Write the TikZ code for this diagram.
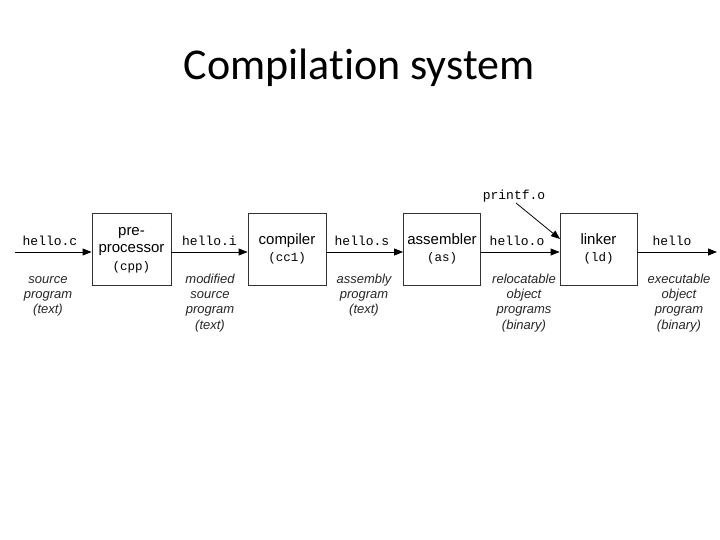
\documentclass[tikz,border=0pt]{standalone}
\usepackage{fontspec}
\setmainfont{Liberation Sans}
\newfontfamily\titlefont{Carlito}[Ligatures=NoCommon]
\newfontfamily\codefont{Liberation Mono}
\usetikzlibrary{arrows.meta}
\newcommand\stagetext[1]{\raisebox{-3pt}{\begin{tabular}{@{}c@{}}#1\end{tabular}}}
\newcommand\stagecode[1]{{\codefont\fontsize{12.5}{17.5}\selectfont #1}}
\tikzset{
  stagebox/.style={draw=black!80, line width=0.8pt, minimum width=78pt, minimum height=72pt,
    inner sep=0pt, align=center, font=\fontsize{15}{17.5}\selectfont},
  flow/.style={line width=0.8pt, -{Triangle[length=9pt,width=7pt]}},
  filelabel/.style={font=\codefont\fontsize{13}{15}\selectfont, anchor=base},
  desclabel/.style={font=\itshape\fontsize{13}{15.3}\selectfont, align=center, anchor=north, text=black!85, inner sep=0pt},
}
\begin{document}
\begin{tikzpicture}[x=1pt,y=-1pt]
\useasboundingbox (0,0) rectangle (720,540);
\node[font=\titlefont\fontsize{44}{50}\selectfont, anchor=base] (title) at (359,80) {Compilation system};

\node[stagebox, minimum width=79pt] (pre) at (131.5,249.3) {\stagetext{pre-\\processor\\\stagecode{(cpp)}}};
\node[stagebox] (comp) at (287,249.3) {\stagetext{compiler\\\stagecode{(cc1)}}};
\node[stagebox, minimum width=77pt] (asm) at (442,249.3) {\stagetext{assembler\\\stagecode{(as)}}};
\node[stagebox, minimum width=77pt] (link) at (598.5,249.3) {\stagetext{linker\\\stagecode{(ld)}}};

\coordinate (start) at (15,252);
\coordinate (finish) at (717,252);
\draw[flow] (start) -- (start -| pre.west);
\draw[flow] (pre.east |- start) -- (start -| comp.west);
\draw[flow] (comp.east |- start) -- (start -| asm.west);
\draw[flow] (asm.east |- start) -- (start -| link.west);
\draw[flow] (link.east |- start) -- (finish);

\node[filelabel] (fc) at (50,245) {hello.c};
\node[filelabel] (fi) at (209.5,245) {hello.i};
\node[filelabel] (fs) at (362,245) {hello.s};
\node[filelabel] (fo) at (517,245) {hello.o};
\node[filelabel] (fh) at (672,245) {hello};
\node[filelabel] (fp) at (514,200) {printf.o};

\coordinate (pstart) at (516,203);
\coordinate (plink) at (560,239);
\draw[flow] (pstart) -- (plink);

\node[desclabel] (dc) at (48,272.3) {\strut source\\program\\(text)};
\node[desclabel] (di) at (210,272.3) {\strut modified\\source\\program\\(text)};
\node[desclabel] (ds) at (364,272.3) {\strut assembly\\program\\(text)};
\node[desclabel] (do) at (524,272.3) {\strut relocatable\\object\\programs\\(binary)};
\node[desclabel] (dh) at (679,272.3) {\strut executable\\object\\program\\(binary)};
\end{tikzpicture}
\end{document}
